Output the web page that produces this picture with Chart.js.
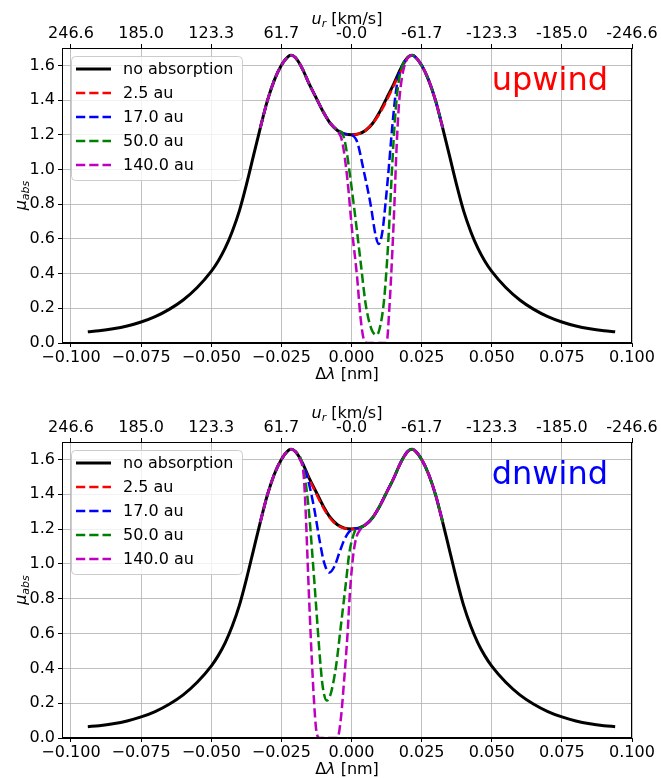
<!DOCTYPE html>
<html>
<head>
<meta charset="utf-8">
<script src="https://cdn.jsdelivr.net/npm/chart.js@4.4.0/dist/chart.umd.min.js"></script>
<style>
  html, body { margin: 0; padding: 0; background: #fff; }
  canvas { display: block; }
</style>
</head>
<body>
<canvas id="upChart" width="661" height="389"></canvas>
<canvas id="dnChart" width="661" height="389"></canvas>
<script>
// ---- axes ----
const xTicks = [-0.1, -0.075, -0.05, -0.025, 0, 0.025, 0.05, 0.075, 0.1];
const urLabels = ['246.6', '185.0', '123.3', '61.7', '-0.0', '-61.7', '-123.3', '-185.0', '-246.6'];
const yTicks = [0, 0.2, 0.4, 0.6, 0.8, 1.0, 1.2, 1.4, 1.6];

const seriesLabels = ['no absorption', '2.5 au', '17.0 au', '50.0 au', '140.0 au'];
const seriesColors = ['#000000', '#ff0000', '#0000ff', '#008000', '#bf00bf'];

// ---- profile without absorption ----
const dlam = [-0.094, -0.09, -0.085, -0.08, -0.075, -0.07, -0.065, -0.06, -0.055, -0.05,
  -0.0475, -0.045, -0.0425, -0.04, -0.0375, -0.035, -0.0325, -0.03, -0.0275, -0.025,
  -0.0225, -0.0215, -0.02, -0.0175, -0.015, -0.0125, -0.01, -0.0075, -0.005, -0.0025,
  0, 0.0025, 0.005, 0.0075, 0.01, 0.0125, 0.015, 0.0175, 0.02, 0.0215,
  0.0225, 0.025, 0.0275, 0.03, 0.0325, 0.035, 0.0375, 0.04, 0.0425, 0.045,
  0.0475, 0.05, 0.055, 0.06, 0.065, 0.07, 0.075, 0.08, 0.085, 0.09, 0.094];
const noAbs = [0.065, 0.071, 0.082, 0.098, 0.121, 0.152, 0.194, 0.248, 0.32, 0.413,
  0.473, 0.548, 0.643, 0.76, 0.91, 1.075, 1.24, 1.395, 1.515, 1.60,
  1.652, 1.658, 1.645, 1.58, 1.49, 1.41, 1.33, 1.265, 1.225, 1.205,
  1.200, 1.205, 1.225, 1.265, 1.33, 1.41, 1.49, 1.58, 1.645, 1.658,
  1.652, 1.60, 1.515, 1.395, 1.24, 1.075, 0.91, 0.76, 0.643, 0.548,
  0.473, 0.413, 0.32, 0.248, 0.194, 0.152, 0.121, 0.098, 0.082, 0.071, 0.065];
const absRange = 0.0325;   // coloured curves only drawn inside +-this

// ---- upwind: absorbed part of each profile ----
const up25x = [0.006, 0.0085, 0.011, 0.0135, 0.016, 0.0185];
const up25y = [1.24, 1.285, 1.35, 1.43, 1.515, 1.598];
const up17x = [0.0, 0.002, 0.0044, 0.0068, 0.0086, 0.0097, 0.011, 0.0121, 0.0133, 0.0145, 0.0157, 0.0169, 0.0181];
const up17y = [1.199, 1.16, 0.99, 0.80, 0.62, 0.571, 0.64, 0.80, 1.01, 1.24, 1.43, 1.55, 1.60];
const up50x = [-0.0033, -0.0021, -0.0004, 0.0014, 0.0032, 0.005, 0.0068, 0.0089, 0.0099, 0.0115, 0.0127, 0.0137, 0.0145, 0.0155, 0.0166, 0.0182];
const up50y = [1.21, 1.14, 0.95, 0.72, 0.476, 0.23, 0.095, 0.046, 0.075, 0.23, 0.476, 0.76, 1.02, 1.29, 1.48, 1.60];
const up140x = [-0.005, -0.0033, -0.0015, 0.0002, 0.002, 0.0032, 0.0044, 0.0056, 0.0125, 0.0135, 0.0146, 0.0153, 0.016, 0.0169, 0.0181, 0.0195, 0.0208];
const up140y = [1.222, 1.16, 0.95, 0.65, 0.38, 0.15, 0.02, 0.0, 0.0, 0.2, 0.54, 0.8, 1.1, 1.37, 1.54, 1.625, 1.652];

// ---- downwind ----
const dn25x = [-0.018, -0.0155, -0.013, -0.0105, -0.008, -0.0055, -0.003];
const dn25y = [1.59, 1.5, 1.418, 1.336, 1.27, 1.228, 1.207];
const dn17x = [-0.0172, -0.015, -0.0132, -0.0114, -0.0097, -0.0079, -0.0061, -0.0044, -0.0026, -0.0008, 0.0015];
const dn17y = [1.57, 1.45, 1.31, 1.137, 1.004, 0.95, 0.985, 1.06, 1.137, 1.185, 1.205];
const dn50x = [-0.0178, -0.0162, -0.015, -0.0138, -0.0126, -0.0114, -0.0103, -0.0088, -0.0073, -0.0055, -0.0038, -0.002, -0.0008, 0.0009, 0.0021];
const dn50y = [1.59, 1.45, 1.27, 1.02, 0.756, 0.49, 0.30, 0.215, 0.26, 0.413, 0.642, 0.89, 1.06, 1.175, 1.204];
const dn140x = [-0.0185, -0.0171, -0.0164, -0.0157, -0.015, -0.0142, -0.0134, -0.0126, -0.0114, -0.005, -0.0038, -0.0026, -0.0014, -0.0005, 0.0007, 0.0018, 0.003, 0.0045];
const dn140y = [1.605, 1.518, 1.327, 1.04, 0.756, 0.47, 0.223, 0.05, 0.0, 0.0, 0.11, 0.337, 0.60, 0.85, 1.06, 1.156, 1.194, 1.22];

const FONT = '"DejaVu Sans"';

function bare() {
  return dlam.map((x, i) => ({ x: x, y: noAbs[i] }));
}

// bare profile inside +-absRange, with the absorbed stretch swapped in
function absorbed(xs, ys) {
  const lo = xs[0], hi = xs[xs.length - 1];
  const pts = [];
  dlam.forEach((x, i) => {
    if (Math.abs(x) <= absRange + 1e-9 && (x < lo || x > hi)) pts.push({ x: x, y: noAbs[i] });
  });
  xs.forEach((x, i) => pts.push({ x: x, y: ys[i] }));
  return pts.sort((a, b) => a.x - b.x);
}

function drawRuns(ctx, runs, cx, base) {
  let w = 0;
  runs.forEach(r => { ctx.font = r.f; w += ctx.measureText(r.t).width; });
  let x = cx - w / 2;
  ctx.textAlign = 'left';
  ctx.textBaseline = 'alphabetic';
  runs.forEach(r => {
    ctx.font = r.f;
    ctx.fillText(r.t, x, base + (r.dy || 0));
    x += ctx.measureText(r.t).width;
  });
}

const decor = {
  id: 'decor',
  afterDraw(chart, args, opts) {
    const { ctx, chartArea: a, scales } = chart;
    ctx.save();
    ctx.strokeStyle = '#000';
    ctx.lineWidth = 1;
    ctx.strokeRect(Math.round(a.left) + 0.5, Math.round(a.top) + 0.5,
      Math.round(a.right - a.left) - 1, Math.round(a.bottom - a.top) - 1);

    // wind label
    ctx.fillStyle = opts.tagColor;
    ctx.font = '32px ' + FONT;
    ctx.textAlign = 'left';
    ctx.textBaseline = 'alphabetic';
    ctx.fillText(opts.tag, scales.x.getPixelForValue(0.05), scales.y.getPixelForValue(1.46));

    // legend
    const lx = a.left + 9, ly = a.top + 8, lw = 171, lh = 124;
    ctx.beginPath();
    ctx.roundRect(lx + 0.5, ly + 0.5, lw, lh, 4);
    ctx.fillStyle = 'rgba(255,255,255,0.8)';
    ctx.fill();
    ctx.strokeStyle = '#cccccc';
    ctx.stroke();
    chart.data.datasets.forEach((ds, i) => {
      const cy = ly + 13 + i * 24;
      ctx.beginPath();
      ctx.setLineDash(ds.borderDash || []);
      ctx.strokeStyle = ds.borderColor;
      ctx.lineWidth = ds.borderWidth;
      ctx.moveTo(lx + 5, cy);
      ctx.lineTo(lx + 40, cy);
      ctx.stroke();
      ctx.setLineDash([]);
      ctx.fillStyle = '#000';
      ctx.font = '16px ' + FONT;
      ctx.fillText(ds.label, lx + 52, cy + 5);
    });

    // axis titles
    ctx.fillStyle = '#000';
    const cx = (a.left + a.right) / 2;
    drawRuns(ctx, [
      { t: '\u0394', f: '16px ' + FONT },
      { t: '\u03bb', f: 'italic 16px ' + FONT },
      { t: ' [nm]', f: '16px ' + FONT }
    ], cx, a.bottom + 36);
    drawRuns(ctx, [
      { t: 'u', f: 'italic 16px ' + FONT },
      { t: 'r', f: 'italic 11px ' + FONT, dy: 3 },
      { t: ' [km/s]', f: '16px ' + FONT }
    ], cx, a.top - 24);
    ctx.translate(26, (a.top + a.bottom) / 2);
    ctx.rotate(-Math.PI / 2);
    drawRuns(ctx, [
      { t: '\u03bc', f: 'italic 16px ' + FONT },
      { t: 'abs', f: 'italic 11px ' + FONT, dy: 3 }
    ], 0, 0);
    ctx.restore();
  }
};

function makeChart(id, curves, tag, tagColor, topH, bottomH) {
  const sets = [bare()].concat(curves);
  return new Chart(document.getElementById(id), {
    type: 'line',
    data: {
      datasets: sets.map((pts, i) => ({
        label: seriesLabels[i],
        data: pts,
        borderColor: seriesColors[i],
        borderWidth: i === 0 ? 3 : 2.5,
        borderDash: i === 0 ? [] : [9.25, 4],
        borderCapStyle: 'butt',
        pointRadius: 0,
        cubicInterpolationMode: 'monotone',
        order: sets.length - i
      }))
    },
    options: {
      responsive: false,
      animation: false,
      layout: { padding: { left: 0, right: 29, top: 0, bottom: 0 }, autoPadding: false },
      plugins: {
        legend: { display: false },
        tooltip: { enabled: false },
        decor: { tag: tag, tagColor: tagColor }
      },
      scales: {
        x: {
          type: 'linear', position: 'bottom', min: -0.1032, max: 0.1,
          afterBuildTicks: s => { s.ticks = xTicks.map(v => ({ value: v })); },
          afterFit: s => { s.height = bottomH; },
          ticks: {
            color: '#000', font: { family: 'DejaVu Sans', size: 16 }, padding: 1,
            maxRotation: 0, autoSkip: false,
            callback: v => v.toFixed(3).replace('-', '\u2212')
          },
          grid: { color: '#b0b0b0', lineWidth: 0.8, tickColor: '#000', tickLength: 4, tickWidth: 1 },
          border: { display: true, color: '#000', width: 1 }
        },
        x2: {
          type: 'linear', position: 'top', min: -0.1032, max: 0.1,
          afterBuildTicks: s => { s.ticks = xTicks.map(v => ({ value: v })); },
          afterFit: s => { s.height = topH; },
          ticks: {
            color: '#000', font: { family: 'DejaVu Sans', size: 16 }, padding: 1,
            maxRotation: 0, autoSkip: false,
            callback: (v, i) => urLabels[i]
          },
          grid: { drawOnChartArea: false, tickColor: '#000', tickLength: 4, tickWidth: 1 },
          border: { display: true, color: '#000', width: 1 }
        },
        y: {
          type: 'linear', position: 'left', min: 0, max: 1.70,
          afterBuildTicks: s => { s.ticks = yTicks.map(v => ({ value: v })); },
          afterFit: s => { s.width = 62; },
          ticks: {
            color: '#000', font: { family: 'DejaVu Sans', size: 16 }, padding: 3,
            callback: v => v.toFixed(1)
          },
          grid: { color: '#b0b0b0', lineWidth: 0.8, tickColor: '#000', tickLength: 4, tickWidth: 1 },
          border: { display: true, color: '#000', width: 1 }
        }
      }
    },
    plugins: [decor]
  });
}

makeChart('upChart', [
  absorbed(up25x, up25y),
  absorbed(up17x, up17y),
  absorbed(up50x, up50y),
  absorbed(up140x, up140y)
], 'upwind', '#ff0000', 48, 46);

makeChart('dnChart', [
  absorbed(dn25x, dn25y),
  absorbed(dn17x, dn17y),
  absorbed(dn50x, dn50y),
  absorbed(dn140x, dn140y)
], 'dnwind', '#0000ff', 53, 40);
</script>
</body>
</html>
